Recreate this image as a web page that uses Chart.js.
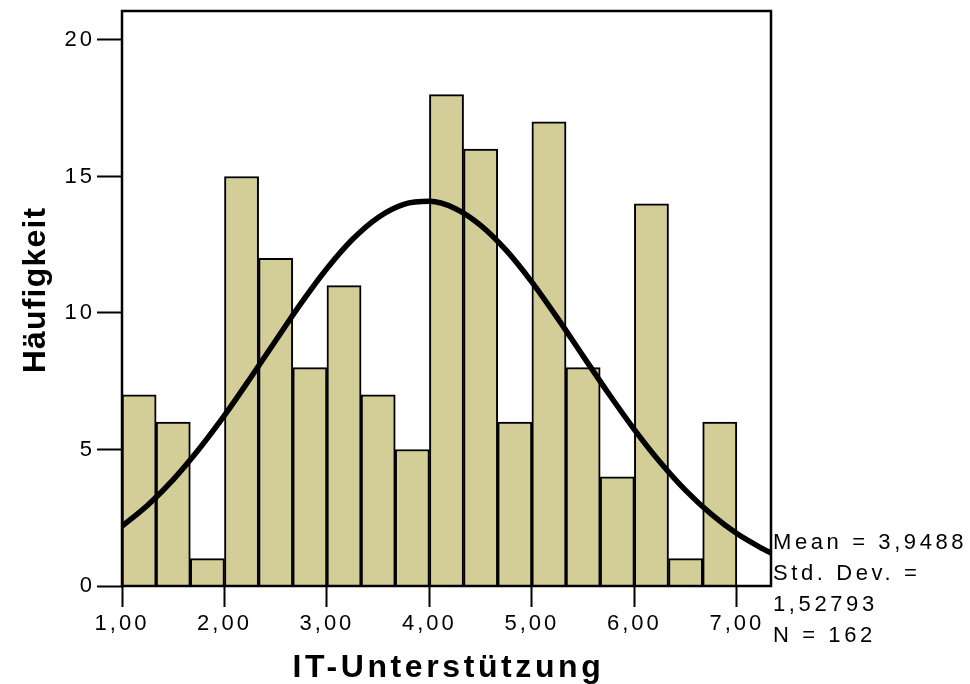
<!DOCTYPE html>
<html>
<head>
<meta charset="utf-8">
<script src="https://cdn.jsdelivr.net/npm/chart.js@4/dist/chart.umd.min.js"></script>
<style>
  html, body { margin: 0; padding: 0; background: #ffffff; }
  #wrap { width: 970px; height: 684px; }
</style>
</head>
<body>
<div id="wrap"><canvas id="c" width="970" height="684"></canvas></div>
<script>
// Histogram of "IT-Unterstützung": 18 bins of width 1/3 starting at 1,00
const binStart = [1, 4/3, 5/3, 2, 7/3, 8/3, 3, 10/3, 11/3, 4, 13/3, 14/3, 5, 16/3, 17/3, 6, 19/3, 20/3];
const binWidth = 1/3;
const frequencies = [7, 6, 1, 15, 12, 8, 11, 7, 5, 18, 16, 6, 17, 8, 4, 14, 1, 6];

// Fitted normal curve (Mean 3,9488, Std. Dev. 1,52793), sampled along the axis
const curveX = [1.00, 1.25, 1.50, 1.75, 2.00, 2.25, 2.50, 2.75, 3.00, 3.25, 3.50, 3.75, 4.00,
                4.25, 4.50, 4.75, 5.00, 5.25, 5.50, 5.75, 6.00, 6.25, 6.50, 6.75, 7.00, 7.25, 7.3333];
const curveY = [2.19, 2.96, 3.90, 5.01, 6.25, 7.60, 8.99, 10.37, 11.63, 12.70, 13.50, 13.98, 14.09,
                13.83, 13.21, 12.29, 11.13, 9.81, 8.42, 7.04, 5.73, 4.54, 3.50, 2.63, 1.92, 1.37, 1.21];

const xTickValues = [1, 2, 3, 4, 5, 6, 7];
const xTickLabels = ['1,00', '2,00', '3,00', '4,00', '5,00', '6,00', '7,00'];
const yTickValues = [0, 5, 10, 15, 20];
const yTickLabels = ['0', '5', '10', '15', '20'];

const statLines = ['Mean = 3,9488', 'Std. Dev. =', '1,52793', 'N = 162'];
const xTitle = 'IT-Unterstützung';
const yTitle = 'Häufigkeit';

const FONT = "'Liberation Sans', Arial, sans-serif";
const BAR_FILL = 'rgb(211, 206, 152)';

const barData = binStart.map((s, i) => ({ x: s + binWidth / 2, y: frequencies[i] }));
const lineData = curveX.map((x, i) => ({ x: x, y: curveY[i] }));

// Tick labels in this chart use a spaced-out sans font
const spacing = {
  id: 'spacing',
  beforeUpdate(chart) { chart.ctx.letterSpacing = '3px'; },
  beforeDraw(chart) { chart.ctx.letterSpacing = '3px'; }
};

// Frame round the plot area, drawn above the bars and below the curve
const frame = {
  id: 'frame',
  beforeDatasetDraw(chart, args) {
    if (args.index !== 0) return;
    const { ctx, chartArea: a } = chart;
    ctx.save();
    ctx.strokeStyle = '#000';
    ctx.lineWidth = 2.5;
    ctx.strokeRect(a.left, a.top, a.right - a.left, a.bottom - a.top);
    ctx.restore();
  }
};

// Axis titles and the summary statistics beside the plot
const annotations = {
  id: 'annotations',
  afterDraw(chart) {
    const { ctx, chartArea: a } = chart;
    ctx.save();
    ctx.fillStyle = '#000';

    ctx.font = 'bold 32px ' + FONT;
    ctx.letterSpacing = '3.6px';
    ctx.textAlign = 'center';
    ctx.textBaseline = 'alphabetic';
    ctx.fillText(xTitle, (a.left + a.right) / 2 + 2, 677);

    ctx.save();
    ctx.letterSpacing = '1.2px';
    ctx.translate(45, 290);
    ctx.rotate(-Math.PI / 2);
    ctx.fillText(yTitle, 0, 0);
    ctx.restore();

    ctx.font = '22px ' + FONT;
    ctx.letterSpacing = '3.6px';
    ctx.textAlign = 'left';
    const baselines = [549, 580, 611, 642];
    statLines.forEach((t, i) => ctx.fillText(t, a.right + 2, baselines[i]));
    ctx.restore();
  }
};

new Chart(document.getElementById('c'), {
  type: 'bar',
  data: {
    datasets: [
      {
        type: 'line',
        data: lineData,
        borderColor: '#000',
        borderWidth: 5.5,
        borderCapStyle: 'round',
        pointRadius: 0,
        fill: false,
        cubicInterpolationMode: 'monotone'
      },
      {
        type: 'bar',
        data: barData,
        backgroundColor: BAR_FILL,
        borderColor: '#000',
        borderWidth: 2,
        barPercentage: 1,
        categoryPercentage: 1
      }
    ]
  },
  options: {
    responsive: false,
    animation: false,
    devicePixelRatio: 1,
    layout: { padding: { left: 0, top: 11, right: 199, bottom: 0 } },
    plugins: { legend: { display: false }, tooltip: { enabled: false } },
    scales: {
      x: {
        type: 'linear',
        offset: false,
        min: 1,
        max: 22 / 3,
        afterBuildTicks(s) { s.ticks = xTickValues.map(v => ({ value: v })); },
        afterFit(s) { s.height = 98; s.paddingLeft = 0; s.paddingRight = 0; },
        ticks: {
          autoSkip: false,
          maxRotation: 0,
          color: '#000',
          padding: 4,
          font: { family: FONT, size: 22 },
          callback: (v, i) => xTickLabels[i]
        },
        grid: { offset: false, drawOnChartArea: false, drawTicks: true, tickLength: 21, tickWidth: 2, tickColor: '#000' },
        border: { display: false }
      },
      y: {
        type: 'linear',
        min: 0,
        max: 21.06,
        afterBuildTicks(s) { s.ticks = yTickValues.map(v => ({ value: v })); },
        afterFit(s) { s.width = 122; s.paddingTop = 0; s.paddingBottom = 0; },
        ticks: {
          autoSkip: false,
          color: '#000',
          padding: 2,
          font: { family: FONT, size: 22 },
          callback: (v, i) => yTickLabels[i]
        },
        grid: { drawOnChartArea: false, drawTicks: true, tickLength: 25, tickWidth: 2, tickColor: '#000' },
        border: { display: false }
      }
    }
  },
  plugins: [spacing, frame, annotations]
});
</script>
</body>
</html>
